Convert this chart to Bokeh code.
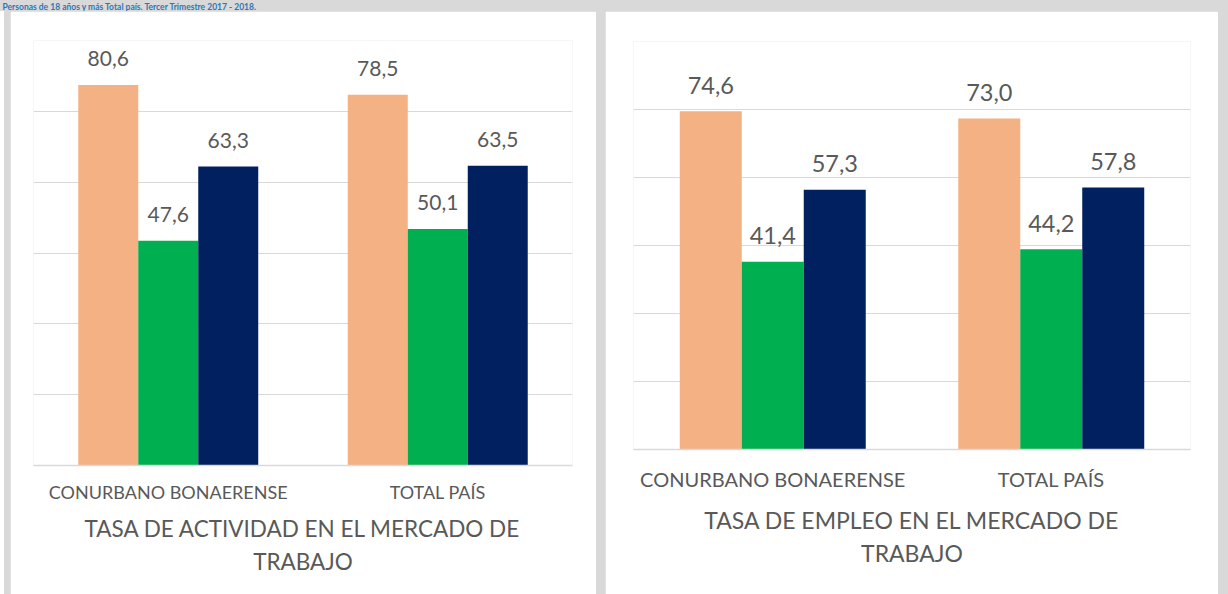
from bokeh.plotting import figure
from bokeh.models import ColumnDataSource, FactorRange, Range1d, FixedTicker, Spacer, Label
from bokeh.transform import dodge
from bokeh.layouts import row, column
from bokeh.core.properties import value
from bokeh.embed import file_html
from bokeh.resources import INLINE

title_text = "Personas de 18 años y más Total país. Tercer Trimestre 2017 - 2018."
categories = ["CONURBANO BONAERENSE", "TOTAL PAÍS"]
series_names = ["Varones", "Mujeres", "Total"]
series_colors = ["#F4B183", "#00B050", "#002060"]

actividad_varones = [80.6, 78.5]
actividad_mujeres = [47.6, 50.1]
actividad_total = [63.3, 63.5]

empleo_varones = [74.6, 73.0]
empleo_mujeres = [41.4, 44.2]
empleo_total = [57.3, 57.8]

grid_ticks = [15, 30, 45, 60, 75, 90]

FONT = "Lato"
TXT = "#595959"
GRID = "#d9d9d9"
BG = "#d9d9d9"


def fmt(v):
    return f"{v:.1f}".replace(".", ",")


def make_panel(title, series, width, height, borders, fs_cat, fs_data, fs_title,
               cat_standoff, title_standoff, lh):
    p = figure(x_range=FactorRange(*categories), y_range=Range1d(0, 90),
               width=width, height=height, output_backend="svg",
               toolbar_location=None,
               min_border_left=borders[0], min_border_right=borders[1],
               min_border_top=borders[2], min_border_bottom=borders[3])
    bw = 0.2226
    for i, (vals, name, color) in enumerate(zip(series, series_names, series_colors)):
        src = ColumnDataSource(dict(cat=categories, val=vals,
                                    lab=[fmt(v) for v in vals]))
        off = (i - 1) * bw
        p.vbar(x=dodge("cat", off, range=p.x_range), top="val", width=bw,
               fill_color=color, line_color=None, source=src)
        p.text(x=dodge("cat", off, range=p.x_range), y="val", text="lab",
               text_align="center", text_baseline="alphabetic", y_offset=-26,
               text_font=value(FONT), text_font_size=fs_data, text_color=TXT,
               source=src)
    p.outline_line_color = None
    p.background_fill_color = "white"
    p.border_fill_color = "white"
    p.yaxis.visible = False
    p.xgrid.grid_line_color = None
    p.ygrid.ticker = FixedTicker(ticks=grid_ticks)
    p.ygrid.grid_line_color = GRID
    p.ygrid.grid_line_width = 1.2
    ax = p.xaxis[0]
    ax.axis_line_color = GRID
    ax.axis_line_width = 1.5
    ax.major_tick_line_color = None
    ax.minor_tick_line_color = None
    ax.major_label_text_font = FONT
    ax.major_label_text_font_size = fs_cat
    ax.major_label_text_color = TXT
    ax.major_label_standoff = cat_standoff
    ax.axis_label = title
    ax.axis_label_text_font = FONT
    ax.axis_label_text_font_size = fs_title
    ax.axis_label_text_font_style = "normal"
    ax.axis_label_text_color = TXT
    ax.axis_label_standoff = title_standoff
    ax.axis_label_text_line_height = lh
    return p


# top strip with the title
strip = figure(width=1228, height=11, x_range=Range1d(0, 1228), y_range=Range1d(0, 11),
               output_backend="svg", toolbar_location=None, min_border=0)
strip.axis.visible = False
strip.grid.grid_line_color = None
strip.outline_line_color = None
strip.background_fill_color = BG
strip.border_fill_color = BG
strip.add_layout(Label(x=2, y=5.5, x_units="screen", y_units="screen", text=title_text,
                       text_font=FONT, text_font_size="8.5px", text_color="#2E75B6",
                       text_font_style="bold", text_baseline="middle",
                       text_line_height=1.0))

p1 = make_panel("TASA DE ACTIVIDAD EN EL MERCADO DE\nTRABAJO",
                [actividad_varones, actividad_mujeres, actividad_total],
                586, 583, (23, 24, 29, 129), "18px", "21px", "22.5px", 9, 9, 1.25)
p2 = make_panel("TASA DE EMPLEO EN EL MERCADO DE\nTRABAJO",
                [empleo_varones, empleo_mujeres, empleo_total],
                613, 583, (28, 28, 30, 145), "20px", "23.5px", "23px", 11, 12, 1.2)

lay = column(strip,
             row(Spacer(width=4, height=583, styles={"background-color": "white"}),
                 Spacer(width=6, height=583),
                 column(p1, width=586, height=583),
                 Spacer(width=9, height=583),
                 column(p2, width=613, height=583),
                 Spacer(width=10, height=583),
                 spacing=0, styles={"background-color": BG}),
             spacing=0, styles={"background-color": BG})

open("out.html", "w").write(file_html(lay, INLINE))
